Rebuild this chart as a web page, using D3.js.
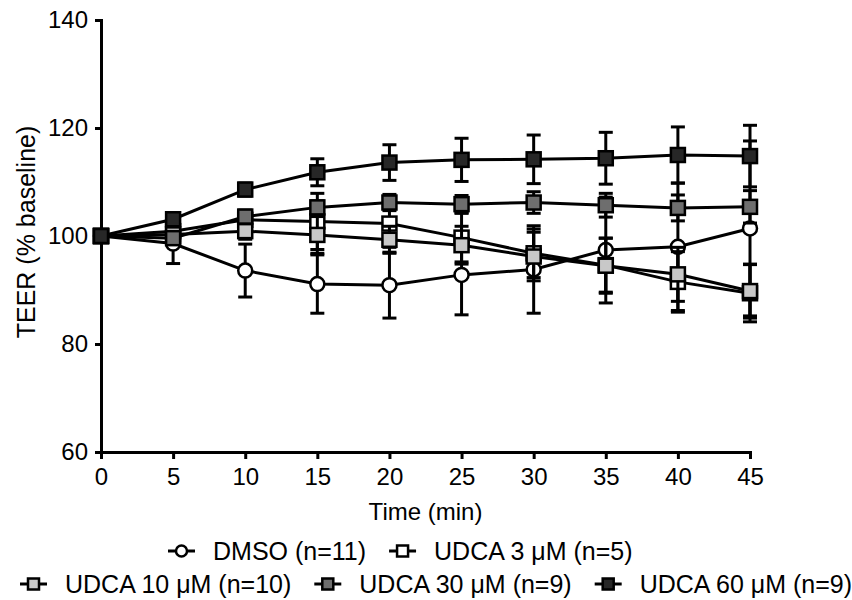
<!DOCTYPE html>
<html>
<head>
<meta charset="utf-8">
<script src="https://cdn.jsdelivr.net/npm/d3@7"></script>
<style>
  body { margin: 0; background: #fff; }
  svg { display: block; }
  text { font-family: "Liberation Sans", Arial, Helvetica, sans-serif; fill: #000; }
</style>
</head>
<body>
<svg id="chart" width="852" height="600"></svg>
<script>
// time points (min)
const times = [0, 5, 10, 15, 20, 25, 30, 35, 40, 45]
const xTicks = [0, 5, 10, 15, 20, 25, 30, 35, 40, 45]
const yTicks = [60, 80, 100, 120, 140]

// TEER, % of baseline (mean and error)
const dmso = [100, 98.6, 93.6, 91.1, 90.9, 92.8, 93.8, 97.4, 98.0, 101.4]
const dmsoErr = [0, 3.7, 4.9, 5.4, 6.1, 7.4, 8.1, 9.8, 11.8, 16.2]
const udca3 = [100, 100.9, 103.0, 102.7, 102.3, 99.7, 96.8, 94.6, 91.5, 89.4]
const udca3Err = [0, 1.0, 1.5, 5.2, 4.4, 4.5, 4.5, 5.0, 5.6, 5.3]
const udca10 = [100, 100.3, 100.9, 100.2, 99.3, 98.3, 96.2, 94.5, 92.9, 89.8]
const udca10Err = [0, 1.0, 1.5, 3.4, 2.5, 3.5, 4.5, 5.1, 5.0, 5.0]
const udca30 = [100, 99.6, 103.6, 105.3, 106.2, 105.9, 106.2, 105.7, 105.2, 105.4]
const udca30Err = [0, 1.0, 1.2, 1.2, 1.5, 1.6, 2.0, 2.2, 2.4, 3.0]
const udca60 = [100, 103.1, 108.6, 111.8, 113.6, 114.1, 114.2, 114.4, 115.0, 114.8]
const udca60Err = [0, 0.8, 1.2, 2.5, 3.3, 4.0, 4.5, 4.8, 5.2, 5.7]

const labels = ["DMSO (n=11)", "UDCA 3 μM (n=5)", "UDCA 10 μM (n=10)", "UDCA 30 μM (n=9)", "UDCA 60 μM (n=9)"]

const series = [
  { label: labels[0], shape: "circle", fill: "#ffffff", values: dmso, err: dmsoErr },
  { label: labels[1], shape: "square", fill: "#ffffff", values: udca3, err: udca3Err },
  { label: labels[2], shape: "square", fill: "#c8c8c8", values: udca10, err: udca10Err },
  { label: labels[3], shape: "square", fill: "#6e6e6e", values: udca30, err: udca30Err },
  { label: labels[4], shape: "square", fill: "#272727", values: udca60, err: udca60Err }
]

const svg = d3.select("#chart")

const x = d3.scaleLinear().domain([0, 45]).range([101, 750])
const y = d3.scaleLinear().domain([60, 140]).range([452, 20])

// axes
const xAxis = svg.append("g")
  .attr("transform", `translate(0,${y(60)})`)
  .call(d3.axisBottom(x).tickValues(xTicks).tickSize(7).tickSizeOuter(0).tickPadding(9))

const yAxis = svg.append("g")
  .attr("transform", `translate(${x(0)},0)`)
  .call(d3.axisLeft(y).tickValues(yTicks).tickSize(6).tickSizeOuter(0).tickPadding(7))

for (const ax of [xAxis, yAxis]) {
  ax.selectAll("path, line").attr("stroke", "#000").attr("stroke-width", 3)
  ax.select(".domain").attr("stroke-linecap", "square")
  ax.selectAll("text")
    .attr("font-family", "Liberation Sans, Arial, sans-serif")
    .attr("font-size", 24)
    .attr("fill", "#000")
}

// axis titles
svg.append("text")
  .attr("x", (x(0) + x(45)) / 2)
  .attr("y", 520)
  .attr("text-anchor", "middle")
  .style("font-size", "24px")
  .text("Time (min)")

svg.append("text")
  .attr("transform", "translate(35,232) rotate(-90)")
  .attr("text-anchor", "middle")
  .style("font-size", "25px")
  .text("TEER (% baseline)")

const capW = 14
const sq = 14
const rad = 7

function drawMarker(g, shape, fill, cx, cy, size) {
  if (shape === "circle") {
    g.append("circle")
      .attr("cx", cx).attr("cy", cy).attr("r", size / 2)
      .attr("fill", fill).attr("stroke", "#000").attr("stroke-width", 2.5)
  } else {
    g.append("rect")
      .attr("x", cx - size / 2).attr("y", cy - size / 2)
      .attr("width", size).attr("height", size)
      .attr("fill", fill).attr("stroke", "#000").attr("stroke-width", 2.5)
  }
}

const line = d3.line().x(d => x(d[0])).y(d => y(d[1]))

// each series: error bars, line, then markers
series.forEach(s => {
  const g = svg.append("g")
  const pts = times.map((t, i) => [t, s.values[i], s.err[i]])

  pts.filter(p => p[2] > 0).forEach(p => {
    const px = x(p[0])
    g.append("line")
      .attr("x1", px).attr("x2", px)
      .attr("y1", y(p[1] - p[2])).attr("y2", y(p[1] + p[2]))
      .attr("stroke", "#000").attr("stroke-width", 3)
    for (const v of [p[1] - p[2], p[1] + p[2]]) {
      g.append("line")
        .attr("x1", px - capW / 2).attr("x2", px + capW / 2)
        .attr("y1", y(v)).attr("y2", y(v))
        .attr("stroke", "#000").attr("stroke-width", 3)
    }
  })

  g.append("path")
    .datum(pts)
    .attr("d", line)
    .attr("fill", "none")
    .attr("stroke", "#000")
    .attr("stroke-width", 3)

  pts.forEach(p => drawMarker(g, s.shape, s.fill, x(p[0]), y(p[1]), s.shape === "circle" ? rad * 2 : sq))
})

// legend, two rows
const legendRows = [
  { start: 168, y: 560, items: [series[0], series[1]] },
  { start: 20, y: 593, items: [series[2], series[3], series[4]] }
]

legendRows.forEach(row => {
  let cx = row.start
  row.items.forEach(s => {
    const g = svg.append("g")
    const my = row.y - 9
    g.append("line")
      .attr("x1", cx).attr("x2", cx + 27)
      .attr("y1", my).attr("y2", my)
      .attr("stroke", "#000").attr("stroke-width", 3)
    drawMarker(g, s.shape, s.fill, cx + 13.5, my, 11)
    const t = g.append("text")
      .attr("x", cx + 45)
      .attr("y", row.y)
      .style("font-size", "25px")
      .text(s.label)
    cx += 45 + t.node().getComputedTextLength() + 23
  })
})
</script>
</body>
</html>
